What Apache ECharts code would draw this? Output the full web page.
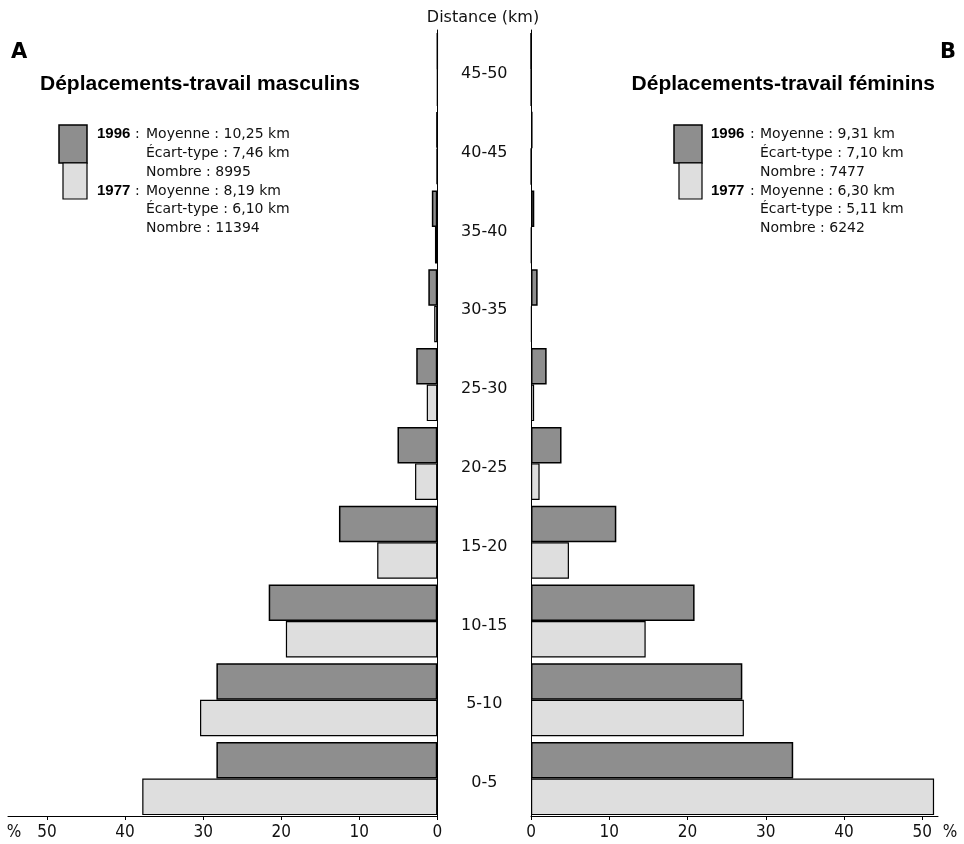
<!DOCTYPE html>
<html>
<head>
<meta charset="utf-8">
<script src="https://cdn.jsdelivr.net/npm/echarts@6/dist/echarts.min.js"></script>
<style>
html,body{margin:0;padding:0;background:#fff;}
#chart{width:964px;height:844px;}
</style>
</head>
<body>
<div id="chart"></div>
<script>
// Distance classes (km)
var categories = ['0-5','5-10','10-15','15-20','20-25','25-30','30-35','35-40','40-45','45-50'];
// A: male commuting trips (%)
var male1996 = [28.3, 28.3, 21.6, 12.6, 5.1, 2.7, 1.15, 0.7, 0.1, 0];
var male1977 = [37.8, 30.4, 19.4, 7.7, 2.85, 1.35, 0.4, 0.3, 0.1, 0];
// B: female commuting trips (%)
var female1996 = [33.5, 27.0, 20.9, 10.9, 3.9, 2.0, 0.85, 0.42, 0.2, 0];
var female1977 = [51.5, 27.2, 14.65, 4.85, 1.1, 0.4, 0.1, 0.05, 0, 0];
// axis tick values
var tickValues = [0, 10, 20, 30, 40, 50];

var DARK = '#8e8e8e', LIGHT = '#dedede';
var TICKFONT = "'Liberation Sans Narrow','DejaVu Sans Condensed',sans-serif";

var chart = echarts.init(document.getElementById('chart'), null, {renderer:'canvas'});

function xAxisCfg(idx, inverse, max){
  return {
    type:'value', gridIndex:idx, inverse:inverse, min:0, max:max, interval:10,
    position:'bottom', offset:-2,
    axisLine:{show:true, lineStyle:{color:'#000', width:1}},
    axisTick:{show:true, length:4, lineStyle:{color:'#000'}, customValues:tickValues},
    axisLabel:{color:'#111', fontSize:17, fontFamily:TICKFONT, margin:8, customValues:tickValues},
    splitLine:{show:false}
  };
}

function barSeries(name, data, xi, color, bw){
  return {
    name:name, type:'bar', xAxisIndex:xi, yAxisIndex:xi, data:data,
    barWidth:36.5, barGap:'0%',
    itemStyle:{color:color, borderColor:'#000', borderWidth:bw},
    animation:false
  };
}

var option = {
  animation:false,
  backgroundColor:'#fff',
  grid:[
    {left:8, right:526.7, top:30, bottom:26},
    {left:531, right:26, top:30, bottom:26}
  ],
  xAxis:[ xAxisCfg(0, true, 55), xAxisCfg(1, false, 52) ],
  yAxis:[
    {type:'category', gridIndex:0, data:categories, position:'right',
     axisLine:{show:true, lineStyle:{color:'#000', width:1}},
     axisTick:{show:false},
     axisLabel:{show:true, align:'center', margin:47,
       formatter:function(v){ return '{c|' + v + '}'; },
       rich:{c:{color:'#111', fontSize:16, fontFamily:"'DejaVu Sans',sans-serif", padding:[9,0,0,0]}}},
     splitLine:{show:false}},
    {type:'category', gridIndex:1, data:categories, position:'left',
     axisLine:{show:true, lineStyle:{color:'#000', width:1}},
     axisTick:{show:false}, axisLabel:{show:false}, splitLine:{show:false}}
  ],
  series:[
    barSeries('1996', male1996, 0, DARK, 1.5),
    barSeries('1977', male1977, 0, LIGHT, 1.2),
    barSeries('1996', female1996, 1, DARK, 1.5),
    barSeries('1977', female1977, 1, LIGHT, 1.2)
  ],
  graphic:[
    {type:'text', x:483, y:18, style:{text:'Distance (km)', font:"16px 'DejaVu Sans',sans-serif", fill:'#111', align:'center', verticalAlign:'middle'}},
    {type:'text', x:11, y:53, style:{text:'A', font:"bold 21px 'DejaVu Sans',sans-serif", fill:'#000', align:'left', verticalAlign:'middle'}},
    {type:'text', x:956, y:53, style:{text:'B', font:"bold 21px 'DejaVu Sans',sans-serif", fill:'#000', align:'right', verticalAlign:'middle'}},
    {type:'text', x:40, y:84, style:{text:'Déplacements-travail masculins', font:"bold 21px 'Liberation Sans',Arial,sans-serif", fill:'#000', align:'left', verticalAlign:'middle'}},
    {type:'text', x:935, y:84, style:{text:'Déplacements-travail féminins', font:"bold 21px 'Liberation Sans',Arial,sans-serif", fill:'#000', align:'right', verticalAlign:'middle'}},
    {type:'text', x:14, y:833, style:{text:'%', font:"17px " + TICKFONT, fill:'#111', align:'center', verticalAlign:'middle'}},
    {type:'text', x:950, y:833, style:{text:'%', font:"17px " + TICKFONT, fill:'#111', align:'center', verticalAlign:'middle'}}
  ]
};

// legends (built from layout constants)
function legendBlock(boxX, boxX2, boxR, yearX, colonX, textX, l1996, l1977){
  var g = [];
  g.push({type:'rect', shape:{x:boxX, y:125, width:boxR-boxX, height:38}, style:{fill:DARK, stroke:'#000', lineWidth:1.5}});
  g.push({type:'rect', shape:{x:boxX2, y:163, width:boxR-boxX2, height:36}, style:{fill:LIGHT, stroke:'#000', lineWidth:1.2}});
  var ys = [134, 153, 172, 191, 209.5, 228];
  var lines = l1996.concat(l1977);
  var tf = "14px 'DejaVu Sans',sans-serif";
  for (var i=0;i<6;i++){
    g.push({type:'text', x:textX, y:ys[i], style:{text:lines[i], font:tf, fill:'#111', align:'left', verticalAlign:'middle'}});
  }
  g.push({type:'text', x:yearX, y:ys[0], style:{text:'1996', font:"bold 15px 'Liberation Sans',Arial,sans-serif", fill:'#000', align:'left', verticalAlign:'middle'}});
  g.push({type:'text', x:yearX, y:ys[3], style:{text:'1977', font:"bold 15px 'Liberation Sans',Arial,sans-serif", fill:'#000', align:'left', verticalAlign:'middle'}});
  g.push({type:'text', x:colonX, y:ys[0], style:{text:':', font:tf, fill:'#111', align:'left', verticalAlign:'middle'}});
  g.push({type:'text', x:colonX, y:ys[3], style:{text:':', font:tf, fill:'#111', align:'left', verticalAlign:'middle'}});
  return g;
}
option.graphic = option.graphic.concat(
  legendBlock(59, 63, 87, 97, 135, 146,
    ['Moyenne : 10,25 km','Écart-type : 7,46 km','Nombre : 8995'],
    ['Moyenne : 8,19 km','Écart-type : 6,10 km','Nombre : 11394']),
  legendBlock(674, 679, 702, 711, 750, 760,
    ['Moyenne : 9,31 km','Écart-type : 7,10 km','Nombre : 7477'],
    ['Moyenne : 6,30 km','Écart-type : 5,11 km','Nombre : 6242'])
);

chart.setOption(option);
</script>
</body>
</html>
